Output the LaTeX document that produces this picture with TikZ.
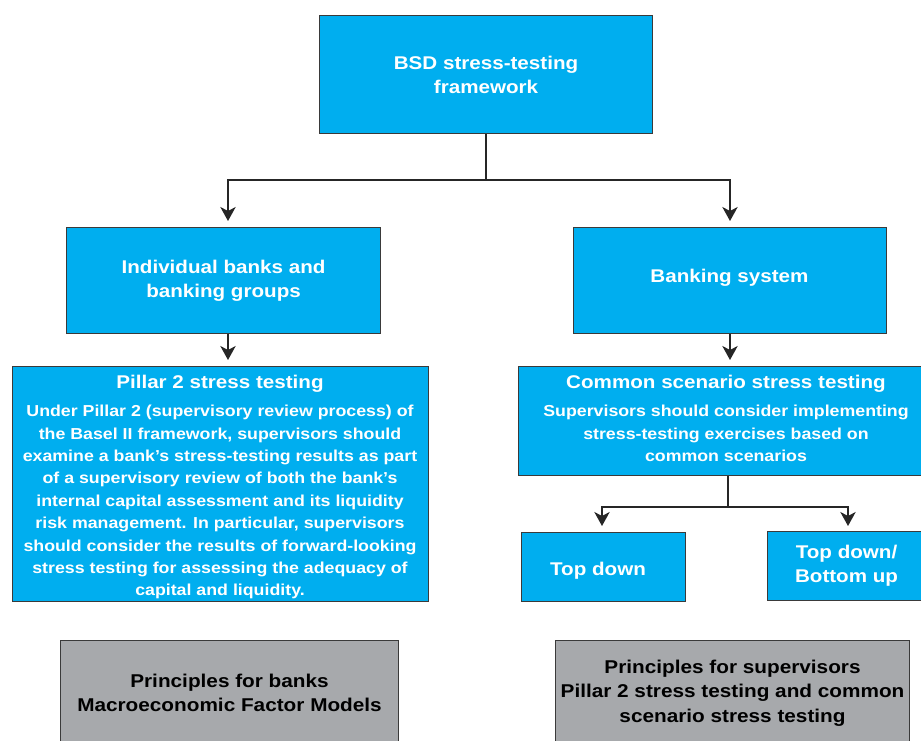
\documentclass[tikz,border=0pt]{standalone}
\usepackage{fontspec}
\setmainfont{Liberation Sans}
\newfontfamily\widesans[FakeStretch=1.12]{Liberation Sans}
\usetikzlibrary{arrows.meta}
\definecolor{bsdblue}{HTML}{00AEEF}
\definecolor{bsdgray}{HTML}{A7A9AC}
\definecolor{edgec}{HTML}{3A3A3A}
\begin{document}
\begin{tikzpicture}[x=0.75pt,y=-0.75pt,
  box/.style={draw=edgec, line width=0.8pt, fill=bsdblue, text=white, align=center, inner sep=0pt, anchor=north west,
    font=\widesans\bfseries\fontsize{13.8}{18}\selectfont},
  graybox/.style={box, fill=bsdgray, text=black, font=\widesans\bfseries\fontsize{13.9}{18.4}\selectfont},
  ttl/.style={text=white, inner sep=0pt, font=\widesans\bfseries\fontsize{13.8}{18}\selectfont},
  body/.style={text=white, inner sep=0pt, align=center, anchor=north, font=\widesans\bfseries\fontsize{11.9}{16.8}\selectfont},
  conn/.style={draw=black!85, line width=1.4pt},
  arr/.style={conn, -{Stealth[length=10.5pt,width=11.5pt,inset=3pt]}}]
\useasboundingbox (0,0) rectangle (921,740);
\clip (0,0) rectangle (921,740);
% boxes
\node[box, minimum width=249.75pt, minimum height=88.5pt] (top) at (319,15) {BSD stress-testing\\framework};
\node[box, minimum width=235.5pt, minimum height=79.5pt] (left) at (66,227) {Individual banks and\\banking groups};
\node[box, minimum width=234.75pt, minimum height=79.5pt] (right) at (573,227) {};
\node[ttl] (rightt) at (729.5,278) {Banking system};
\node[box, minimum width=312pt, minimum height=176.25pt] (pillar) at (12,366) {};
\node[ttl] (pillart) at (220,384) {Pillar 2 stress testing};
\node[body] (pillarb) at (220,405) {Under Pillar 2 (supervisory review process) of\\
the Basel II framework, supervisors should\\
examine a bank’s stress-testing results as part\\
of a supervisory review of both the bank’s\\
internal capital assessment and its liquidity\\
risk management. In particular, supervisors\\
should consider the results of forward-looking\\
stress testing for assessing the adequacy of\\
capital and liquidity.};
\node[box, minimum width=313.5pt, minimum height=81.75pt] (common) at (518,366) {};
\node[ttl] (commont) at (726,384) {Common scenario stress testing};
\node[body] (commonb) at (726,405) {Supervisors should consider implementing\\
stress-testing exercises based on\\
common scenarios};
\node[box, minimum width=123pt, minimum height=51.75pt] (td) at (521,532) {};
\node[ttl] (tdt) at (598,571) {Top down};
\node[box, minimum width=118.5pt, minimum height=51.75pt] (tdbu) at (767,531) {Top down/\\Bottom up};
\node[graybox, minimum width=253.5pt, minimum height=78.75pt] (gl) at (60,640) {Principles for banks\\Macroeconomic Factor Models};
\node[graybox, minimum width=265.5pt, minimum height=78.75pt] (gr) at (555,640) {Principles for supervisors\\Pillar 2 stress testing and common\\scenario stress testing};
% connectors
\coordinate (j1) at (top.south |- 0,180);
\coordinate (a1) at (228,221);
\coordinate (a2) at (730,221);
\coordinate (b1) at (228,360);
\coordinate (b2) at (730,360);
\coordinate (j2) at (728,507);
\coordinate (c1) at (602,526);
\coordinate (c2) at (848,526);
\draw[conn] (top.south) -- (j1);
\draw[arr] (j1) -| (a1);
\draw[arr] (j1) -| (a2);
\draw[arr] (left.south -| b1) -- (b1);
\draw[arr] (right.south -| b2) -- (b2);
\draw[conn] (common.south -| j2) -- (j2);
\draw[arr] (j2) -| (c1);
\draw[arr] (j2) -| (c2);
\end{tikzpicture}
\end{document}
